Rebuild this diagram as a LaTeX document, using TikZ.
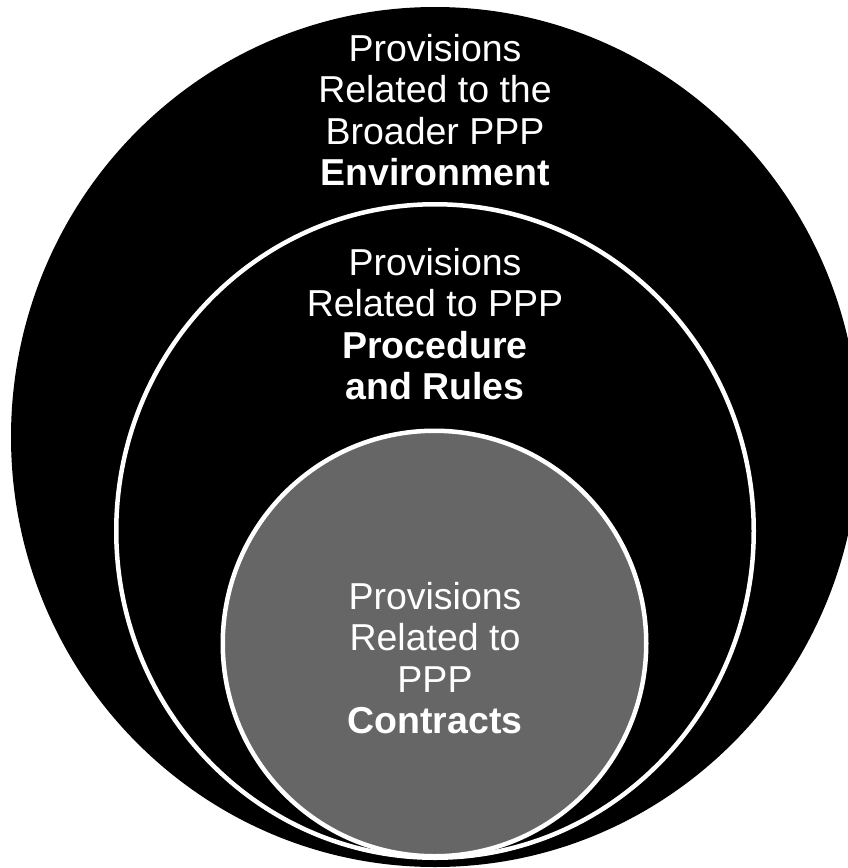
\documentclass[tikz,border=0pt]{standalone}
\usepackage{fontspec}
\setmainfont{Liberation Sans}
\usepackage{tikz}

\begin{document}
\begin{tikzpicture}[x=1pt, y=-1pt,
  every node/.style = {text=white, align=center, font=\fontsize{37.5}{41.5}\selectfont},
  ring/.style = {draw=white, line width=4.5pt}]
  \useasboundingbox (0,0) rectangle (848,868);
  \clip (0,0) rectangle (848,868);
  % the three nested rings
  \fill[black] (435,437) ellipse [x radius=424pt, y radius=430pt];
  \filldraw[ring, fill=black] (435,531) ellipse [x radius=318.75pt, y radius=326.75pt];
  \filldraw[ring, fill=black!60] (434.5,643.5) ellipse [x radius=211.75pt, y radius=212.75pt];
  % labels
  \node (env) at (435,110) {Provisions\\Related to the\\Broader PPP\\\textbf{Environment}};
  \node (proc) at (435,324) {Provisions\\Related to PPP\\\textbf{Procedure}\\\textbf{and Rules}};
  \node (contr) at (435,658) {Provisions\\Related to\\PPP\\\textbf{Contracts}};
\end{tikzpicture}
\end{document}
